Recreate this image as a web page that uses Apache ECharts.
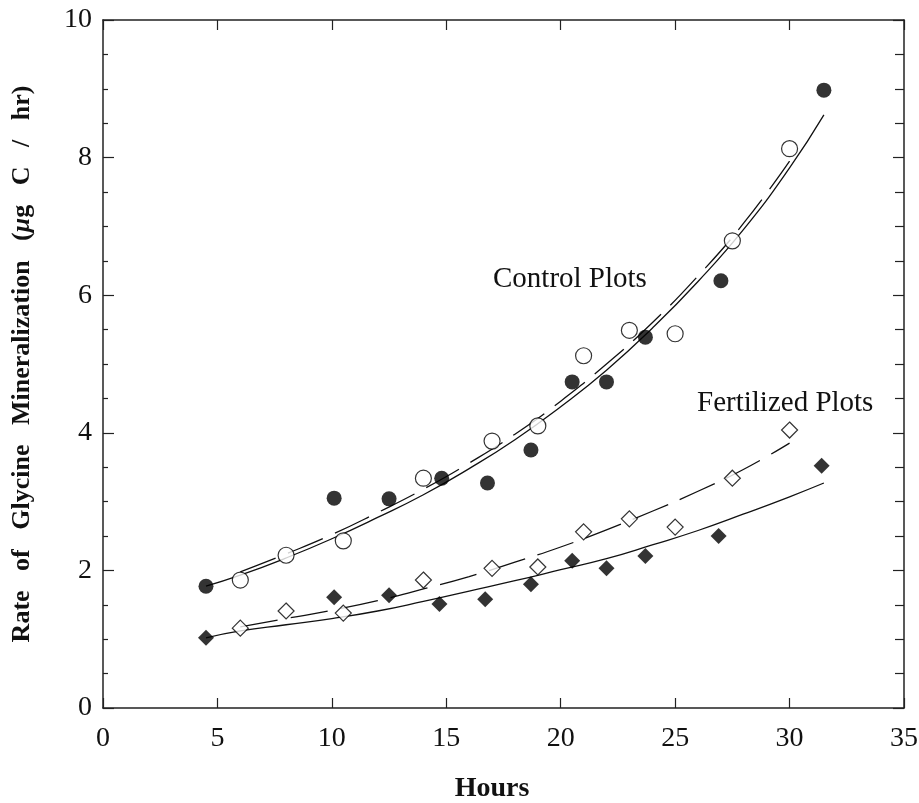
<!DOCTYPE html>
<html>
<head>
<meta charset="utf-8">
<script src="https://cdn.jsdelivr.net/npm/echarts@6/dist/echarts.min.js"></script>
<style>
  html, body { margin: 0; background: #fff; }
  #chart { width: 919px; height: 803px; }
</style>
</head>
<body>
<div id="chart"></div>
<script>
const controlHours = [4.5, 10.1, 12.5, 14.8, 16.8, 18.7, 20.5, 22.0, 23.7, 27.0, 31.5];
const controlRate = [1.77, 3.05, 3.04, 3.34, 3.27, 3.75, 4.74, 4.74, 5.39, 6.21, 8.98];
const controlOpenHours = [6.0, 8.0, 10.5, 14.0, 17.0, 19.0, 21.0, 23.0, 25.0, 27.5, 30.0];
const controlOpenRate = [1.86, 2.22, 2.43, 3.34, 3.88, 4.10, 5.12, 5.49, 5.44, 6.79, 8.13];
const fertHours = [4.5, 10.1, 12.5, 14.7, 16.7, 18.7, 20.5, 22.0, 23.7, 26.9, 31.4];
const fertRate = [1.02, 1.61, 1.64, 1.51, 1.58, 1.80, 2.14, 2.03, 2.21, 2.50, 3.52];
const fertOpenHours = [6.0, 8.0, 10.5, 14.0, 17.0, 19.0, 21.0, 23.0, 25.0, 27.5, 30.0];
const fertOpenRate = [1.16, 1.41, 1.38, 1.86, 2.03, 2.05, 2.56, 2.75, 2.63, 3.34, 4.04];

// fitted curves, sampled from the figure
const fitHours = [4.5, 6, 8, 10, 12, 14, 16, 18, 20, 22, 24, 26, 28, 30, 31.5];
const controlFit = [1.77, 1.93, 2.18, 2.46, 2.77, 3.10, 3.48, 3.90, 4.38, 4.91, 5.52, 6.20, 6.96, 7.85, 8.62];
const fertFit = [1.02, 1.12, 1.21, 1.30, 1.41, 1.55, 1.70, 1.85, 2.01, 2.17, 2.37, 2.58, 2.82, 3.07, 3.27];
const openFitHours = [6, 8, 10, 12, 14, 16, 18, 20, 22, 24, 26, 28, 30];
const controlOpenFit = [1.98, 2.24, 2.52, 2.84, 3.18, 3.56, 3.98, 4.46, 5.00, 5.60, 6.28, 7.05, 7.95];
const fertOpenFit = [1.18, 1.30, 1.42, 1.56, 1.73, 1.91, 2.12, 2.34, 2.59, 2.86, 3.15, 3.47, 3.85];

const xTicks = [0, 5, 10, 15, 20, 25, 30, 35];
const yTicks = [0, 2, 4, 6, 8, 10];

const serif = "'Liberation Serif', 'DejaVu Serif', serif";
const ink = "#111";

function pairs(xs, ys) {
  return xs.map((x, i) => [x, ys[i]]);
}

const chart = echarts.init(document.getElementById("chart"));

// box frame: every axis keeps to its own edge, ticks point into the plot
const axisLine = { show: true, onZero: false, lineStyle: { color: "#222", width: 1.5 } };
const tick = { inside: true, length: 10, lineStyle: { color: "#222", width: 1.2 } };

chart.setOption({
  backgroundColor: "#fff",
  animation: false,
  grid: { left: 103, right: 15, top: 20, bottom: 95, containLabel: false, outerBoundsMode: "none" },
  xAxis: [
    {
      type: "value",
      min: xTicks[0],
      max: xTicks[xTicks.length - 1],
      interval: 5,
      position: "bottom",
      axisLine: axisLine,
      axisTick: tick,
      axisLabel: { fontFamily: serif, fontSize: 28, color: ink, margin: 17 },
      splitLine: { show: false }
    },
    {
      type: "value",
      min: xTicks[0],
      max: xTicks[xTicks.length - 1],
      interval: 5,
      position: "top",
      axisLine: axisLine,
      axisTick: tick,
      axisLabel: { show: false },
      splitLine: { show: false }
    }
  ],
  yAxis: [
    {
      type: "value",
      min: yTicks[0],
      max: yTicks[yTicks.length - 1],
      interval: 2,
      position: "left",
      axisLine: axisLine,
      axisTick: { inside: true, length: 11, lineStyle: { color: "#222", width: 1.2 } },
      minorTick: { show: true, splitNumber: 4, length: 5, lineStyle: { color: "#222", width: 1.2 } },
      axisLabel: { fontFamily: serif, fontSize: 28, color: ink, margin: 11 },
      splitLine: { show: false },
      name: "{a|Rate   of   Glycine   Mineralization   (}{b|μ}{a|g   C   /   hr)}",
      nameLocation: "middle",
      nameGap: 68,
      nameTextStyle: {
        rich: {
          a: { fontFamily: serif, fontSize: 26, fontWeight: "bold", color: ink },
          b: { fontFamily: serif, fontSize: 26, fontWeight: "bold", fontStyle: "italic", color: ink }
        }
      }
    },
    {
      type: "value",
      min: yTicks[0],
      max: yTicks[yTicks.length - 1],
      interval: 2,
      position: "right",
      axisLine: axisLine,
      axisTick: { inside: true, length: 11, lineStyle: { color: "#222", width: 1.2 } },
      minorTick: { show: true, splitNumber: 4, length: 9, lineStyle: { color: "#222", width: 1.2 } },
      axisLabel: { show: false },
      splitLine: { show: false }
    }
  ],
  graphic: [
    {
      type: "text",
      x: 493,
      y: 279,
      style: { text: "Control Plots", font: "29px " + serif, fill: ink, verticalAlign: "middle" }
    },
    {
      type: "text",
      x: 697,
      y: 403,
      style: { text: "Fertilized Plots", font: "29px " + serif, fill: ink, verticalAlign: "middle" }
    },
    {
      type: "text",
      x: 492,
      y: 789,
      style: { text: "Hours", font: "bold 28px " + serif, fill: ink, align: "center", verticalAlign: "middle" }
    }
  ],
  series: [
    {
      name: "control fit",
      type: "line",
      smooth: true,
      symbol: "none",
      data: pairs(fitHours, controlFit),
      lineStyle: { color: ink, width: 1.3 },
      z: 1
    },
    {
      name: "control open fit",
      type: "line",
      smooth: true,
      symbol: "none",
      data: pairs(openFitHours, controlOpenFit),
      lineStyle: { color: ink, width: 1.3, type: [38, 13] },
      z: 1
    },
    {
      name: "fertilized fit",
      type: "line",
      smooth: true,
      symbol: "none",
      data: pairs(fitHours, fertFit),
      lineStyle: { color: ink, width: 1.3 },
      z: 1
    },
    {
      name: "fertilized open fit",
      type: "line",
      smooth: true,
      symbol: "none",
      data: pairs(openFitHours, fertOpenFit),
      lineStyle: { color: ink, width: 1.3, type: [38, 13] },
      z: 1
    },
    {
      name: "control",
      type: "scatter",
      symbol: "circle",
      symbolSize: 15,
      data: pairs(controlHours, controlRate),
      itemStyle: { color: "#000" },
      z: 3
    },
    {
      name: "control open",
      type: "scatter",
      symbol: "circle",
      symbolSize: 16,
      data: pairs(controlOpenHours, controlOpenRate),
      itemStyle: { color: "#fff", borderColor: "#000", borderWidth: 1.2 },
      z: 3
    },
    {
      name: "fertilized",
      type: "scatter",
      symbol: "diamond",
      symbolSize: 16,
      data: pairs(fertHours, fertRate),
      itemStyle: { color: "#000" },
      z: 3
    },
    {
      name: "fertilized open",
      type: "scatter",
      symbol: "diamond",
      symbolSize: 16,
      data: pairs(fertOpenHours, fertOpenRate),
      itemStyle: { color: "#fff", borderColor: "#000", borderWidth: 1.2 },
      z: 3
    }
  ]
});
</script>
</body>
</html>
